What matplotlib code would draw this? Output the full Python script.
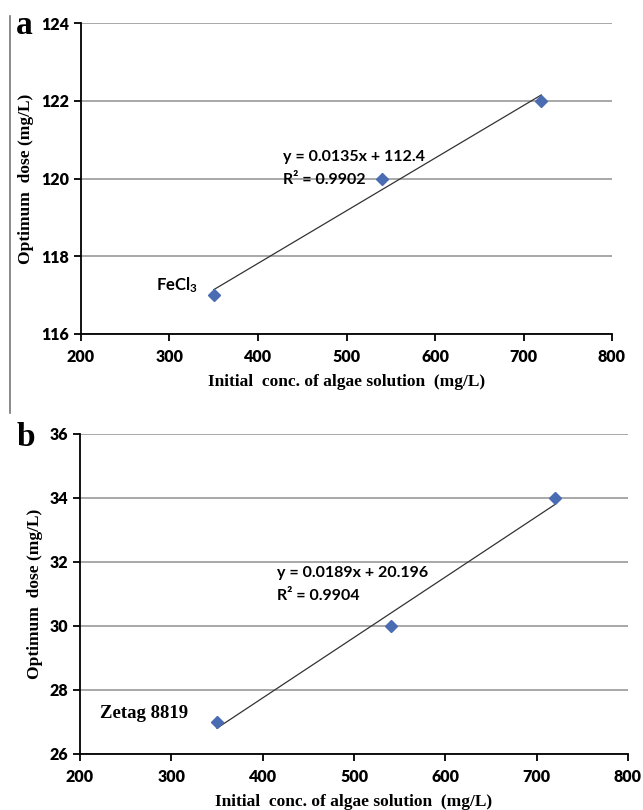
# 导入库
import numpy as np
import matplotlib.pyplot as plt
from matplotlib.lines import Line2D

# 数据
conc = [350, 540, 720]
dose_fecl3 = [117, 120, 122]
dose_zetag = [27, 30, 34]
xticks = [200, 300, 400, 500, 600, 700, 800]
yticks_a = [116, 118, 120, 122, 124]
yticks_b = [26, 28, 30, 32, 34, 36]

blue = '#4a6cb3'
sans = ['Lato', 'DejaVu Sans']
serif = ['Liberation Serif', 'DejaVu Serif']

# 字体设置
plt.rcParams['font.family'] = sans
plt.rcParams['font.weight'] = 'bold'
plt.rcParams['mathtext.fontset'] = 'custom'
plt.rcParams['mathtext.rm'] = 'Lato:bold'
plt.rcParams['mathtext.default'] = 'rm'

fig = plt.figure(figsize=(6.43, 8.10), dpi=100)
ax_a = fig.add_axes([81 / 643, 1 - 334 / 810, 531 / 643, 311 / 810])
ax_b = fig.add_axes([80 / 643, 1 - 754 / 810, 548 / 643, 320 / 810])


def draw(ax, y, yticks, eq, r2, eq_pos, name, name_pos, name_font, name_size):
    x = np.array(conc)
    y = np.array(y)
    ax.plot(x, y, 'D', color=blue, markersize=6.5, zorder=3)
    # 线性拟合
    k, b = np.polyfit(x, y, 1)
    ax.plot([x.min(), x.max()], [k * x.min() + b, k * x.max() + b],
            color='#333333', lw=0.9, zorder=2)
    ax.set_xlim(200, 800)
    ax.set_ylim(yticks[0], yticks[-1])
    ax.set_xticks(xticks)
    ax.set_yticks(yticks)
    ax.set_xticklabels([str(t) for t in xticks], fontweight='heavy', fontsize=11.5)
    ax.set_yticklabels([str(t) for t in yticks], fontweight='heavy', fontsize=11.5)
    ax.yaxis.grid(True, color='#999999', lw=1.2)
    ax.set_axisbelow(True)
    for s in ['top', 'right']:
        ax.spines[s].set_visible(False)
    for s in ['left', 'bottom']:
        ax.spines[s].set_linewidth(1.3)
    ax.tick_params(axis='both', direction='out', length=5, width=1.3)
    ax.tick_params(axis='x', pad=6)
    ax.set_xlabel('Initial  conc. of algae solution  (mg/L)', family=serif,
                  weight='bold', fontsize=12.5, labelpad=6)
    ax.set_ylabel('Optimum  dose (mg/L)', family=serif, weight='bold',
                  fontsize=12.5, labelpad=5)
    ax.text(eq_pos[0], eq_pos[1], eq, weight='bold', fontsize=11.5,
            va='center', ha='left')
    ax.text(eq_pos[0], eq_pos[2], r2, weight='bold', fontsize=11.5,
            va='center', ha='left')
    ax.text(name_pos[0], name_pos[1], name, family=name_font, weight='bold',
            fontsize=name_size, va='center', ha='left')


draw(ax_a, dose_fecl3, yticks_a, 'y = 0.0135x + 112.4', 'R² = 0.9902',
     (428, 120.55, 119.95), r'FeCl$_{3}$', (285, 117.25), sans, 12)
draw(ax_b, dose_zetag, yticks_b, 'y = 0.0189x + 20.196', 'R² = 0.9904',
     (416, 31.66, 30.94), 'Zetag 8819', (222, 27.25), serif, 13.5)

fig.text(16 / 643, 1 - 25 / 810, 'a', family=serif, weight='bold', fontsize=24,
         va='center', ha='left')
fig.text(17 / 643, 1 - 437 / 810, 'b', family=serif, weight='bold', fontsize=24,
         va='center', ha='left')
fig.add_artist(Line2D([10 / 643, 10 / 643], [1 - 16 / 810, 1 - 413 / 810],
                      color='#777777', lw=1.2, transform=fig.transFigure))

plt.savefig('out.png', dpi=100)
